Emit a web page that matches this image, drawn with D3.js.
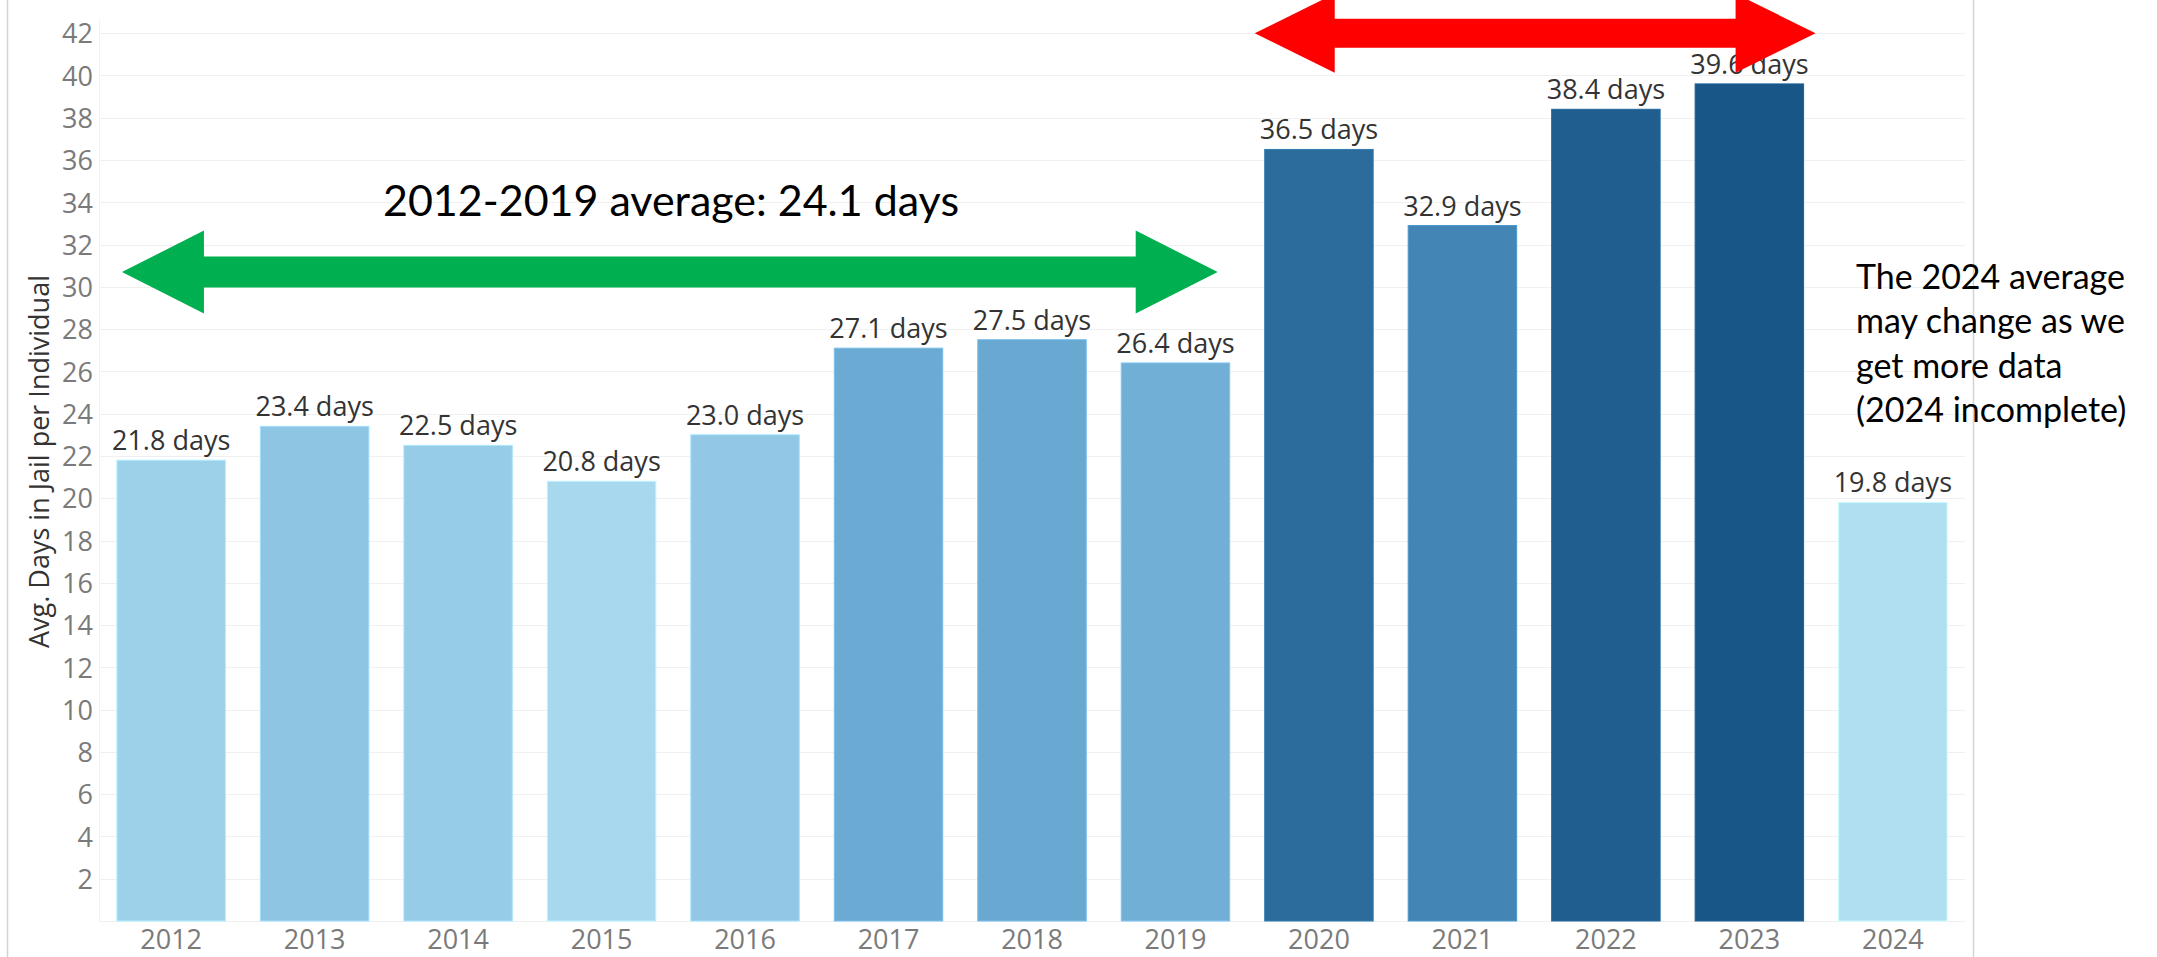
<!DOCTYPE html>
<html>
<head>
<meta charset="utf-8">
<script src="https://cdn.jsdelivr.net/npm/d3@7"></script>
<style>
  html, body { margin: 0; padding: 0; background: #fff; }
  svg { display: block; }
</style>
</head>
<body>
<svg id="chart" width="2157" height="957"></svg>
<script>
// ---- data ----
const years = ["2012","2013","2014","2015","2016","2017","2018","2019","2020","2021","2022","2023","2024"];
const avgDays = [21.8, 23.4, 22.5, 20.8, 23.0, 27.1, 27.5, 26.4, 36.5, 32.9, 38.4, 39.6, 19.8];
const yTicks = [2,4,6,8,10,12,14,16,18,20,22,24,26,28,30,32,34,36,38,40,42];
const yTitle = "Avg. Days in Jail per Individual";
const avgNote = "2012-2019 average: 24.1 days";
const sideNote = ["The 2024 average", "may change as we", "get more data", "(2024 incomplete)"];

// ---- layout ----
const W = 2157, H = 957;
const plot = { left: 99, right: 1965, top: 0, bottom: 921 };
const svg = d3.select("#chart");

const x = d3.scaleBand().domain(years).range([plot.left, plot.right])
  .paddingInner(0.244).paddingOuter(0.125);
const y = d3.scaleLinear().domain([0, 43.57]).range([plot.bottom, plot.top]);
const color = d3.scaleLinear()
  .domain([19.8, 27, 33, 39.6])
  .range(["#b0dff2", "#6cabd4", "#4284b4", "#175686"]);

// outer frame lines
svg.append("line").attr("x1", 7.5).attr("x2", 7.5).attr("y1", 0).attr("y2", H)
  .attr("stroke", "#d4d4d4").attr("stroke-width", 1.5);
svg.append("line").attr("x1", 1973.5).attr("x2", 1973.5).attr("y1", 0).attr("y2", H)
  .attr("stroke", "#d4d4d4").attr("stroke-width", 1.5);

// gridlines
svg.append("g").selectAll("line").data([0, ...yTicks]).join("line")
  .attr("x1", plot.left).attr("x2", plot.right)
  .attr("y1", d => Math.round(y(d)) + 0.5).attr("y2", d => Math.round(y(d)) + 0.5)
  .attr("stroke", "#f0f0f0").attr("stroke-width", 1);
svg.append("line").attr("x1", plot.left + 0.5).attr("x2", plot.left + 0.5)
  .attr("y1", 20).attr("y2", plot.bottom).attr("stroke", "#f2f2f2");

// y axis
const yAxis = d3.axisLeft(y).tickValues(yTicks).tickSize(0).tickPadding(6);
const gy = svg.append("g").attr("transform", `translate(${plot.left},0)`).call(yAxis);
gy.select(".domain").remove();
gy.selectAll("text").attr("font-family", "Open Sans").attr("font-size", 27)
  .attr("fill", "#7a7a7a").attr("dy", "0.36em");

// y title
svg.append("text")
  .attr("transform", `translate(49,${(plot.top + plot.bottom) / 2 + 1}) rotate(-90)`)
  .attr("text-anchor", "middle")
  .attr("font-family", "Open Sans").attr("font-size", 27).attr("fill", "#333")
  .text(yTitle);

// x axis
const xAxis = d3.axisBottom(x).tickSize(0).tickPadding(0);
const gx = svg.append("g").attr("transform", `translate(0,${plot.bottom})`).call(xAxis);
gx.select(".domain").remove();
gx.selectAll("text").attr("font-family", "Open Sans").attr("font-size", 27)
  .attr("fill", "#7a7a7a").attr("dy", null).attr("y", 28);

// bars
const data = years.map((yr, i) => ({ yr, v: avgDays[i] }));
svg.append("g").selectAll("rect").data(data).join("rect")
  .attr("x", d => x(d.yr)).attr("width", x.bandwidth())
  .attr("y", d => y(d.v)).attr("height", d => y(0) - y(d.v))
  .attr("fill", d => color(d.v))
  .attr("stroke", d => d3.color(color(d.v)).brighter(0.35))
  .attr("stroke-width", 1);

// bar labels
svg.append("g").selectAll("text").data(data).join("text")
  .attr("x", d => x(d.yr) + x.bandwidth() / 2)
  .attr("y", d => y(d.v) - 10)
  .attr("text-anchor", "middle")
  .attr("font-family", "Open Sans").attr("font-size", 27).attr("fill", "#333")
  .text(d => d.v.toFixed(1) + " days");

// double arrow helper
function dblArrow(x1, x2, yc, shaftHalf, headHalf, headLen, fill) {
  const p = d3.path();
  p.moveTo(x1, yc);
  p.lineTo(x1 + headLen, yc - headHalf);
  p.lineTo(x1 + headLen, yc - shaftHalf);
  p.lineTo(x2 - headLen, yc - shaftHalf);
  p.lineTo(x2 - headLen, yc - headHalf);
  p.lineTo(x2, yc);
  p.lineTo(x2 - headLen, yc + headHalf);
  p.lineTo(x2 - headLen, yc + shaftHalf);
  p.lineTo(x1 + headLen, yc + shaftHalf);
  p.lineTo(x1 + headLen, yc + headHalf);
  p.closePath();
  svg.append("path").attr("d", p.toString()).attr("fill", fill);
}

// green arrow (2012-2019 span)
dblArrow(x("2012") + 5, x("2019") + x.bandwidth() - 12, y(30.7), 15.5, 41.5, 82, "#00b050");
// red arrow (2020-2023 span)
dblArrow(x("2020") - 10, x("2023") + x.bandwidth() + 12, y(42.0), 14.5, 39.5, 80, "#ff0000");

// annotation text
svg.append("text")
  .attr("x", 383).attr("y", 216)
  .attr("font-family", "Lato").attr("font-size", 43).attr("fill", "#000")
  .attr("textLength", 576).attr("lengthAdjust", "spacingAndGlyphs")
  .text(avgNote);

svg.append("g").selectAll("text").data(sideNote).join("text")
  .attr("x", 1856).attr("y", (d, i) => 289 + i * 44.4)
  .attr("font-family", "Lato").attr("font-size", 34).attr("fill", "#000")
  .text(d => d);
</script>
</body>
</html>
